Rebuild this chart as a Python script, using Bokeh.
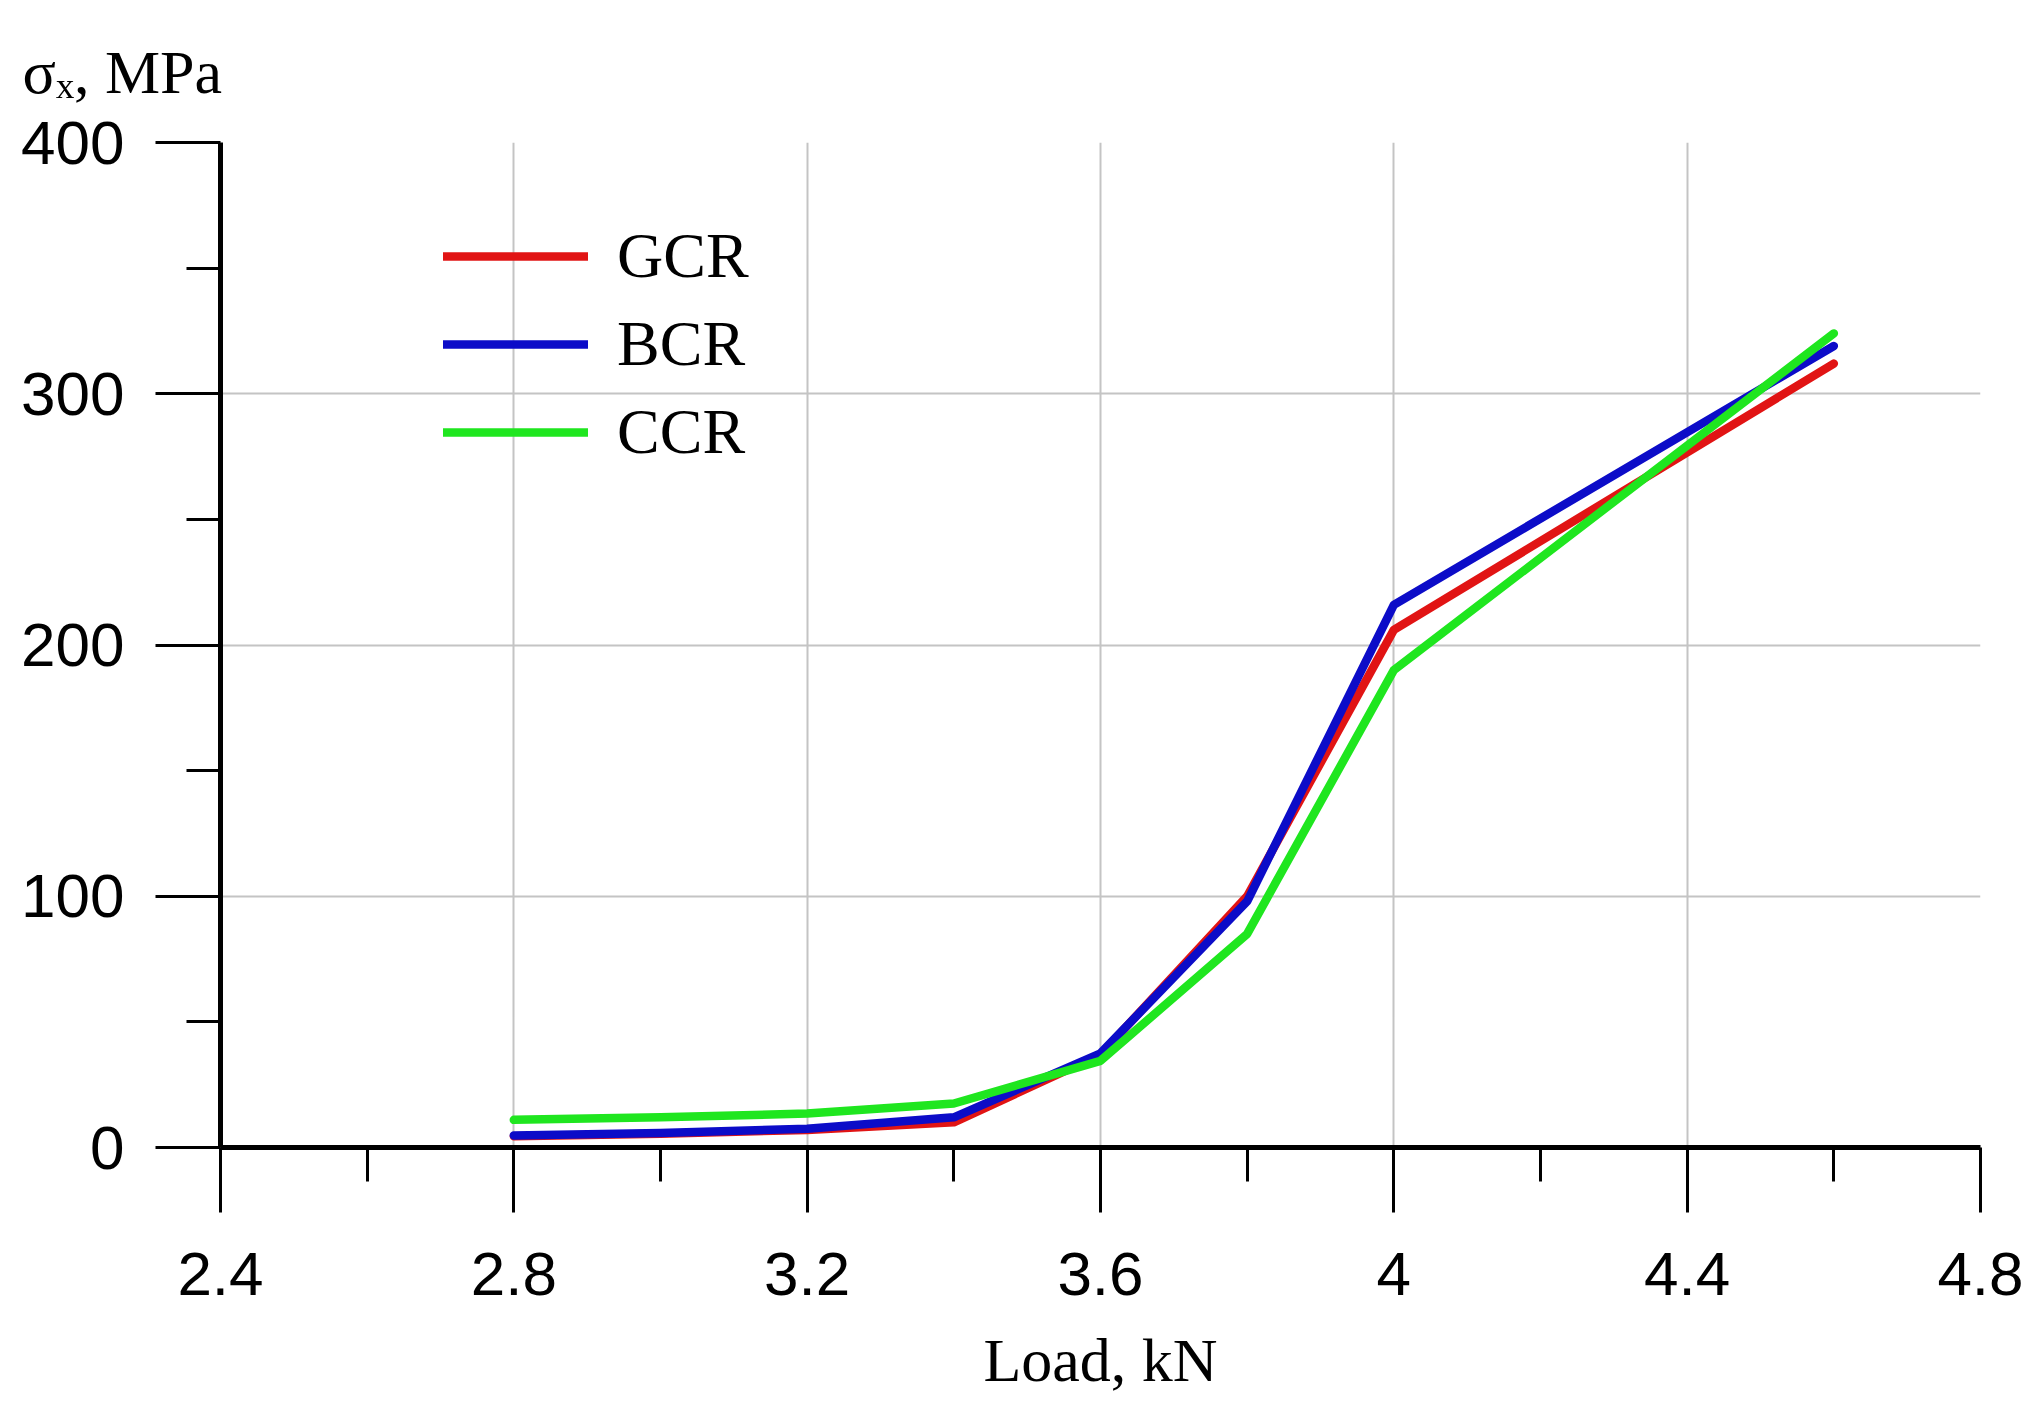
from bokeh.plotting import figure
from bokeh.models import Range1d, FixedTicker, Legend, LegendItem, Title
from bokeh.embed import file_html
from bokeh.resources import INLINE

# ---- data ----
load_kn = [2.8, 3.0, 3.2, 3.4, 3.6, 3.8, 4.0, 4.6]
gcr = [4.5, 5.5, 7.0, 10.0, 37.0, 100.0, 206.0, 312.0]
bcr = [4.8, 5.8, 7.5, 12.0, 37.5, 98.0, 216.0, 319.0]
ccr = [11.0, 12.0, 13.5, 17.5, 34.5, 85.0, 190.0, 324.0]
series_names = ["GCR", "BCR", "CCR"]
series_colors = ["#e11414", "#0c0cc8", "#1fe61f"]
x_ticks = [2.4, 2.8, 3.2, 3.6, 4.0, 4.4, 4.8]
x_minor = [2.6, 3.0, 3.4, 3.8, 4.2, 4.6]
y_ticks = [0, 100, 200, 300, 400]
y_minor = [50, 150, 250, 350]
x_tick_labels = {2.4: "2.4", 2.8: "2.8", 3.2: "3.2", 3.6: "3.6", 4.0: "4", 4.4: "4.4", 4.8: "4.8"}
y_title = "σₓ, MPa"
x_title = "Load, kN"

W, H = 2034, 1400
p = figure(width=W, height=H, output_backend="svg", toolbar_location=None,
           x_range=Range1d(2.4, 4.8), y_range=Range1d(0, 400),
           min_border_left=220, min_border_right=54, min_border_top=142, min_border_bottom=253)
p.outline_line_color = None
p.background_fill_color = "white"

for ax, major, minor in ((p.xaxis[0], x_ticks, x_minor), (p.yaxis[0], y_ticks, y_minor)):
    ax.ticker = FixedTicker(ticks=major, minor_ticks=minor)
    ax.axis_line_width = 5
    ax.axis_line_color = "black"
    ax.major_tick_line_width = 3
    ax.minor_tick_line_width = 3
    ax.major_tick_in = 0
    ax.minor_tick_in = 0
    ax.major_tick_out = 65
    ax.minor_tick_out = 34
    ax.major_label_text_font = "Liberation Sans"
    ax.major_label_text_font_size = "62px"
    ax.major_label_text_color = "black"

p.xaxis[0].major_label_overrides = x_tick_labels
p.xaxis[0].major_label_standoff = 40
p.yaxis[0].major_label_standoff = 31

xa = p.xaxis[0]
xa.axis_label = x_title
xa.axis_label_text_font = "Liberation Serif"
xa.axis_label_text_font_size = "62px"
xa.axis_label_text_font_style = "normal"
xa.axis_label_text_color = "black"
xa.axis_label_standoff = 28

p.xgrid.grid_line_color = "#c4c4c4"
p.xgrid.grid_line_width = 2
p.ygrid.grid_line_color = "#c4c4c4"
p.ygrid.grid_line_width = 2

renderers = []
for vals, color in zip((gcr, bcr, ccr), series_colors):
    r = p.line(load_kn, vals, line_color=color, line_width=8.5, line_cap="round", line_join="round")
    renderers.append(r)

legend = Legend(items=[LegendItem(label=n, renderers=[r]) for n, r in zip(series_names, renderers)],
                location=(223, 671), orientation="vertical")
legend.border_line_color = None
legend.background_fill_alpha = 0
legend.margin = 0
legend.padding = 0
legend.spacing = 0
legend.glyph_width = 145
legend.glyph_height = 88
legend.label_height = 88
legend.label_standoff = 29
legend.label_text_font = "Liberation Serif"
legend.label_text_font_size = "64px"
legend.label_text_color = "black"
p.add_layout(legend)

t = Title(text=y_title, align="left", offset=-198, text_font="Liberation Serif",
          text_font_size="62px", text_font_style="normal", text_color="black",
          standoff=70, vertical_align="top")
p.add_layout(t, "above")

open("out.html", "w").write(file_html(p, INLINE))
